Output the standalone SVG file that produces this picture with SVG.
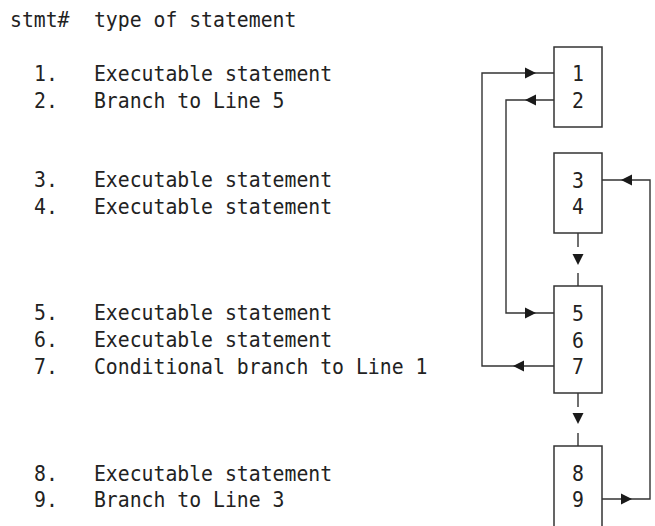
<svg xmlns="http://www.w3.org/2000/svg" width="655" height="526" viewBox="0 0 655 526">
<style>
text{font-family:"DejaVu Sans Mono","Liberation Mono",monospace;font-size:22px;fill:#222}
.box{fill:#fff;stroke:#333;stroke-width:1.5}
.ln{fill:none;stroke:#333;stroke-width:1.4}
.ah{fill:#1a1a1a}
.c{text-anchor:middle}
</style>
<defs>
<path id="ar" d="M0,0 L-11,-5.5 L-11,5.5 Z"/>
</defs>
<rect width="655" height="526" fill="#fff"/>
<g id="listing" transform="scale(0.9,1)">
<text x="11.1" y="27">stmt#</text>
<text x="104.4" y="27">type of statement</text>
<text x="37.8" y="81">1.</text><text x="104.4" y="81">Executable statement</text>
<text x="37.8" y="108">2.</text><text x="104.4" y="108">Branch to Line 5</text>
<text x="37.8" y="187">3.</text><text x="104.4" y="187">Executable statement</text>
<text x="37.8" y="214">4.</text><text x="104.4" y="214">Executable statement</text>
<text x="37.8" y="320">5.</text><text x="104.4" y="320">Executable statement</text>
<text x="37.8" y="347">6.</text><text x="104.4" y="347">Executable statement</text>
<text x="37.8" y="374">7.</text><text x="104.4" y="374">Conditional branch to Line 1</text>
<text x="37.8" y="481">8.</text><text x="104.4" y="481">Executable statement</text>
<text x="37.8" y="507">9.</text><text x="104.4" y="507">Branch to Line 3</text>
</g>
<g id="connectors">
<polyline class="ln" points="554,366 482,366 482,73 554,73"/>
<polyline class="ln" points="554,100 506,100 506,313 554,313"/>
<polyline class="ln" points="602,499 650,499 650,180 602,180"/>
<line class="ln" x1="578" y1="233" x2="578" y2="247"/>
<line class="ln" x1="578" y1="273" x2="578" y2="286"/>
<line class="ln" x1="578" y1="393" x2="578" y2="407"/>
<line class="ln" x1="578" y1="433" x2="578" y2="446"/>
<use href="#ar" class="ah" transform="translate(536,73)"/>
<use href="#ar" class="ah" transform="translate(525,100) rotate(180)"/>
<use href="#ar" class="ah" transform="translate(536,313)"/>
<use href="#ar" class="ah" transform="translate(513,366) rotate(180)"/>
<use href="#ar" class="ah" transform="translate(621,180) rotate(180)"/>
<use href="#ar" class="ah" transform="translate(632,499)"/>
<use href="#ar" class="ah" transform="translate(578,265) rotate(90)"/>
<use href="#ar" class="ah" transform="translate(578,424) rotate(90)"/>
</g>
<g id="node-1-2">
<rect class="box" x="554" y="47" width="48" height="80"/>
<text class="c" x="642.2" y="81" transform="scale(0.9,1)">1</text>
<text class="c" x="642.2" y="108" transform="scale(0.9,1)">2</text>
</g>
<g id="node-3-4">
<rect class="box" x="554" y="153" width="48" height="80"/>
<text class="c" x="642.2" y="188" transform="scale(0.9,1)">3</text>
<text class="c" x="642.2" y="214" transform="scale(0.9,1)">4</text>
</g>
<g id="node-5-7">
<rect class="box" x="554" y="286" width="48" height="107"/>
<text class="c" x="642.2" y="321" transform="scale(0.9,1)">5</text>
<text class="c" x="642.2" y="348" transform="scale(0.9,1)">6</text>
<text class="c" x="642.2" y="374" transform="scale(0.9,1)">7</text>
</g>
<g id="node-8-9">
<rect class="box" x="554" y="446" width="48" height="84"/>
<text class="c" x="642.2" y="481" transform="scale(0.9,1)">8</text>
<text class="c" x="642.2" y="507" transform="scale(0.9,1)">9</text>
</g>
</svg>
